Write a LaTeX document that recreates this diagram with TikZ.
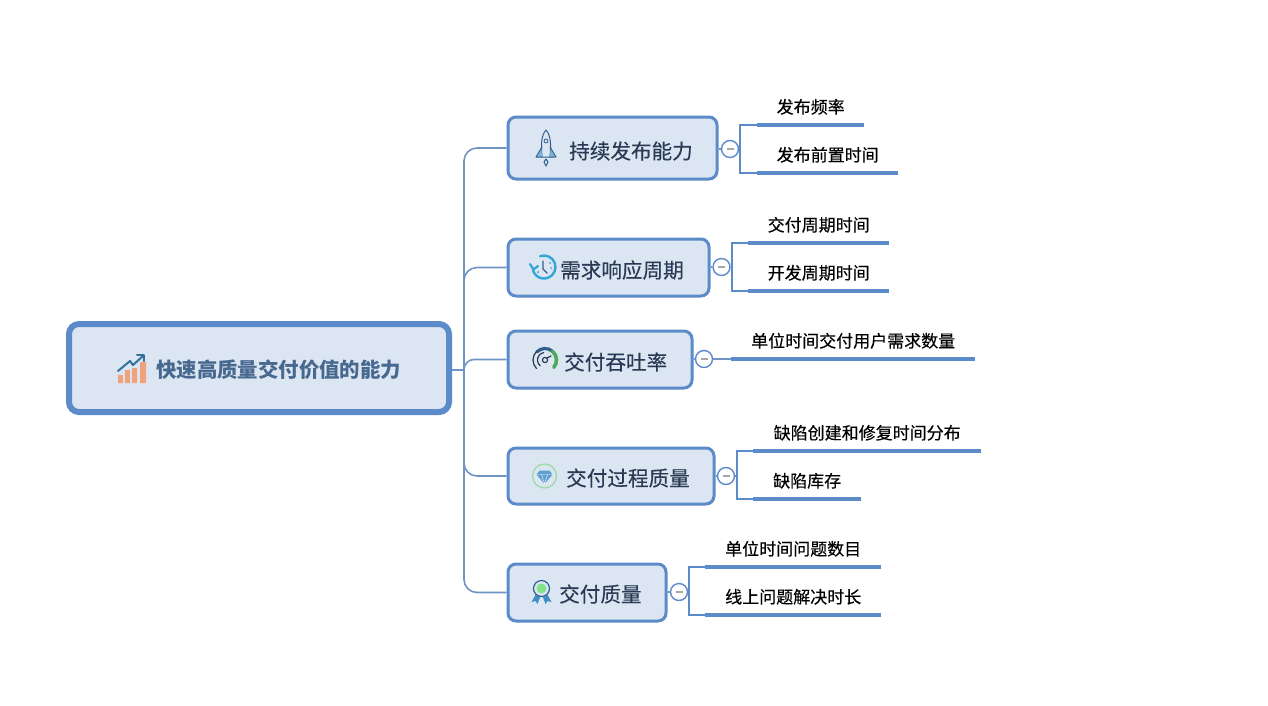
\documentclass[tikz,border=0pt]{standalone}
\usepackage{fontspec}
\setmainfont{Noto Sans CJK SC}
\definecolor{edgeblue}{HTML}{5B8BC9}
\definecolor{linkblue}{HTML}{6F95C4}
\definecolor{boxfill}{HTML}{DCE6F2}
\definecolor{rootink}{HTML}{47688F}
\definecolor{branchink}{HTML}{2A3A55}
\definecolor{iconblue}{HTML}{3F8FC4}
\definecolor{icondark}{HTML}{2E5F8F}
\definecolor{iconcyan}{HTML}{35A5D8}
\definecolor{icongreen}{HTML}{4CA95C}
\definecolor{iconlime}{HTML}{9BDDA0}
\definecolor{iconorange}{HTML}{F0A27C}
\tikzset{
  rootbox/.style={draw=edgeblue,fill=boxfill,line width=6pt,rounded corners=10pt,inner sep=0pt,minimum width=380pt,minimum height=88pt},
  branchbox/.style={draw=edgeblue,fill=boxfill,line width=3pt,rounded corners=8pt,inner sep=0pt},
  roottext/.style={text=rootink,font=\fontsize{20.4pt}{24pt}\selectfont\bfseries,inner sep=0pt,anchor=west},
  branchtext/.style={text=branchink,font=\fontsize{20.6pt}{24pt}\selectfont\addfontfeature{FakeBold=0.3},inner sep=0pt,anchor=west},
  leaf/.style={anchor=south west,inner xsep=0pt,inner ysep=0pt,minimum height=36pt,text=black,font=\fontsize{17pt}{20pt}\selectfont\addfontfeature{FakeBold=0.3}},
  leafline/.style={draw=edgeblue,line width=4.4pt},
  link/.style={draw=linkblue,line width=1.6pt,rounded corners=13pt},
  bracket/.style={draw=edgeblue,line width=1.5pt},
  toggle/.style={circle,draw=edgeblue,fill=white,line width=1.4pt,minimum size=17pt,inner sep=0pt},
  minusbar/.style={draw=gray!70,line width=1.2pt},
  ico/.style={line width=1.2pt,line join=round,line cap=round}
}
\begin{document}
\begin{tikzpicture}[x=1pt,y=-1pt]
\useasboundingbox (0,0) rectangle (1268,705);
\fill[white] (0,0) rectangle (1268,705);
% main boxes
\node[rootbox] (root) at (259,368) {};
\node[branchbox,minimum width=209pt,minimum height=62pt] (b1) at (612.5,148) {};
\node[branchbox,minimum width=201pt,minimum height=57pt] (b2) at (608.5,267.5) {};
\node[branchbox,minimum width=184pt,minimum height=57pt] (b3) at (600,359.5) {};
\node[branchbox,minimum width=206pt,minimum height=56pt] (b4) at (611,476) {};
\node[branchbox,minimum width=158pt,minimum height=57pt] (b5) at (587,592.5) {};
% texts
\node[roottext] (rt) at (156,370) {快速高质量交付价值的能力};
\node[branchtext] (t1) at (569,151) {持续发布能力};
\node[branchtext] (t2) at (560,270) {需求响应周期};
\node[branchtext] (t3) at (564,362) {交付吞吐率};
\node[branchtext] (t4) at (566,478) {交付过程质量};
\node[branchtext] (t5) at (559,594) {交付质量};
% trunk
\coordinate (trunk) at (464,370);
\draw[link,rounded corners=0pt] (root.east |- trunk) -- (trunk);
\draw[link] (trunk) |- (b1.west);
\draw[link] (trunk) |- (b2.west);
\draw[link,rounded corners=10pt] (trunk) |- (b3.west);
\draw[link] (trunk) |- (b4.west);
\draw[link] (trunk) |- (b5.west);
% toggles
\node[toggle] (c1) at (730,149) {};
\node[toggle] (c2) at (721.5,267) {};
\node[toggle] (c3) at (704,359) {};
\node[toggle] (c4) at (726,476) {};
\node[toggle] (c5) at (679,592) {};
\foreach \c/\b in {c1/b1,c2/b2,c3/b3,c4/b4,c5/b5}{
  \draw[link,rounded corners=0pt] (\b.east |- \c) -- (\c.west);
  \draw[minusbar] ([xshift=-3.5pt]\c.center) -- ([xshift=3.5pt]\c.center);
}
% leaves
\node[leaf,minimum width=107pt] (l11) at (757,125) {发布频率};
\node[leaf,minimum width=141pt] (l12) at (757,173) {发布前置时间};
\node[leaf,minimum width=141pt] (l21) at (748,243) {交付周期时间};
\node[leaf,minimum width=141pt] (l22) at (748,291) {开发周期时间};
\node[leaf,minimum width=244pt] (l31) at (731,359) {单位时间交付用户需求数量};
\node[leaf,minimum width=228pt] (l41) at (753,451) {缺陷创建和修复时间分布};
\node[leaf,minimum width=108pt] (l42) at (753,499) {缺陷库存};
\node[leaf,minimum width=176pt] (l51) at (705,567) {单位时间问题数目};
\node[leaf,minimum width=176pt] (l52) at (705,615) {线上问题解决时长};
\foreach \l in {l11,l12,l21,l22,l31,l41,l42,l51,l52}{
  \draw[leafline] (\l.south west) -- (\l.south east);
}
% brackets
\draw[bracket] (c1.east) -| ([xshift=-17pt]l11.south west) -- (l11.south west);
\draw[bracket] (c1.east) -| ([xshift=-17pt]l12.south west) -- (l12.south west);
\draw[bracket] (c2.east) -| ([xshift=-16pt]l21.south west) -- (l21.south west);
\draw[bracket] (c2.east) -| ([xshift=-16pt]l22.south west) -- (l22.south west);
\draw[link,rounded corners=0pt] (c3.east) -- (l31.south west);
\draw[bracket] (c4.east) -| ([xshift=-16pt]l41.south west) -- (l41.south west);
\draw[bracket] (c4.east) -| ([xshift=-16pt]l42.south west) -- (l42.south west);
\draw[bracket] (c5.east) -| ([xshift=-16pt]l51.south west) -- (l51.south west);
\draw[bracket] (c5.east) -| ([xshift=-16pt]l52.south west) -- (l52.south west);
% icon: chart
\begin{scope}[shift={(131,370)},ico]
  \fill[iconorange] (-13,13) rectangle (-8,5) (-6,13) rectangle (-1,0) (1,13) rectangle (6,-2) (9,13) rectangle (15,-8);
  \draw[iconblue!80!black,line width=2pt] (-13,1) -- (-1,-9) -- (2,-5) -- (12,-14);
  \draw[iconblue!80!black,line width=2pt] (6,-15) -- (13,-15) -- (13,-9);
\end{scope}
% icon: rocket
\begin{scope}[shift={(546,148)},ico,draw=icondark]
  \draw[line width=1pt] (0,-18) .. controls (5,-12) and (5,-4) .. (4,9) -- (-4,9) .. controls (-5,-4) and (-5,-12) .. (0,-18) -- cycle;
  \fill[iconblue!70] (-4.5,1) -- (-9,9) -- (-4,9) -- cycle (4.5,1) -- (9,9) -- (4,9) -- cycle;
  \draw[line width=1pt] (-4,-1) -- (-10,9) -- (-4,9) (4,-1) -- (10,9) -- (4,9);
  \draw[line width=.8pt] (0,-7) circle (2);
  \draw[line width=1pt] (0,11) -- (-2,14) -- (0,18) -- (2,14) -- cycle;
\end{scope}
% icon: clock
\begin{scope}[shift={(544,267)},ico,draw=iconcyan]
  \draw[line width=2.4pt] (-110:11.5) arc[start angle=-110,end angle=165,radius=11.5];
  \draw[line width=2.2pt] (-14,-3) -- (-10.5,2.5) -- (-6,-1);
  \draw[line width=1.4pt,icondark] (-1,-6) -- (-1,2) -- (3,6);
  \fill[iconcyan] (6,-4) circle (1) (7,1) circle (1) (-6,5) circle (1);
\end{scope}
% icon: gauge
\begin{scope}[shift={(545,360)},ico]
  \draw[icondark,line width=3.2pt] (-135:11.5) arc[start angle=-135,end angle=-50,radius=11.5];
  \draw[icongreen,line width=3.6pt] (-50:11.5) arc[start angle=-50,end angle=40,radius=11.5];
  \draw[branchink,line width=1.2pt] (135:12) arc[start angle=135,end angle=225,radius=12];
  \draw[branchink,line width=1.2pt] (130:7.5) arc[start angle=130,end angle=260,radius=7.5];
  \draw[branchink,line width=1.2pt] (0,0) circle (2.6);
  \draw[branchink,line width=1.2pt] (2,-2) -- (6,-4);
\end{scope}
% icon: diamond
\begin{scope}[shift={(544.5,476)},ico]
  \draw[iconlime,line width=1.3pt] (0,0) circle (12);
  \fill[iconblue!85] (-5,-5.5) -- (5,-5.5) -- (8,-1.5) -- (0,8) -- (-8,-1.5) -- cycle;
  \draw[white,line width=.4pt] (-8,-1.5) -- (8,-1.5) (-3,-1.5) -- (0,8) -- (3,-1.5);
\end{scope}
% icon: award
\begin{scope}[shift={(541.5,592)},ico]
  \fill[iconblue] (-5,1) -- (-10,10) -- (-6,9) -- (-4,12) -- (-1,4) -- cycle;
  \fill[iconblue] (5,1) -- (10,10) -- (6,9) -- (4,12) -- (1,4) -- cycle;
  \fill[boxfill] (0,-3.5) circle (8.5);
  \draw[icondark,line width=1.2pt] (0,-3.5) circle (8);
  \fill[iconlime!85!green] (0,-3.5) circle (5);
\end{scope}
\end{tikzpicture}
\end{document}
